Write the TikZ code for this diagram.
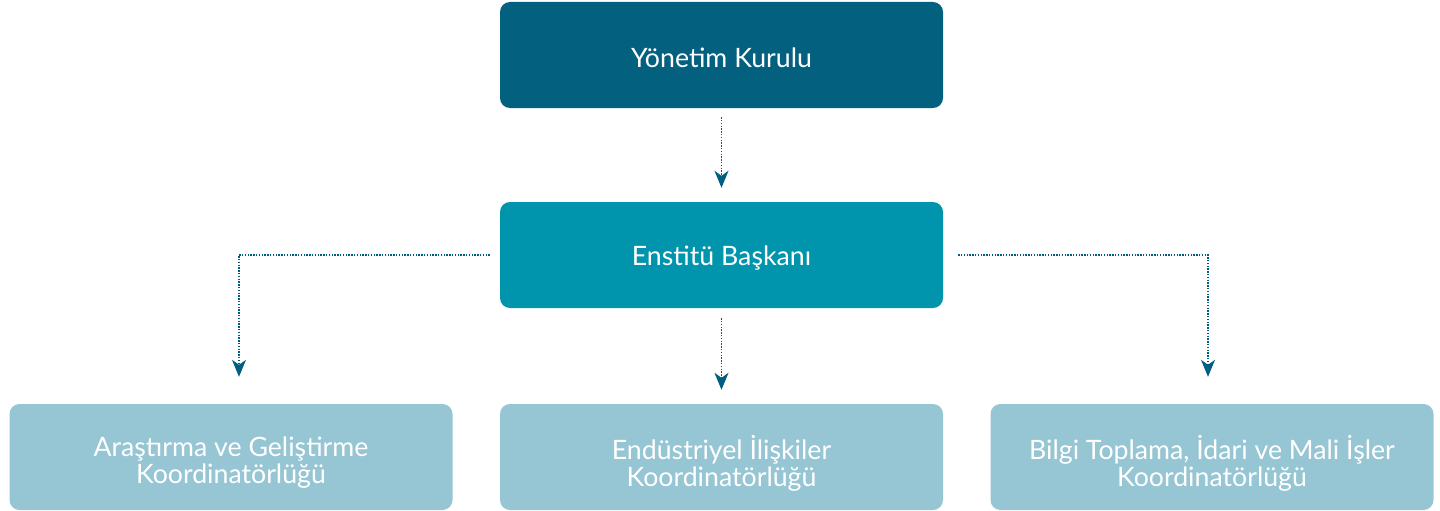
\documentclass[tikz,border=0pt]{standalone}
\usepackage{fontspec}
\setmainfont{Lato}
\usetikzlibrary{arrows.meta}
\definecolor{cTop}{HTML}{03607F}
\definecolor{cMid}{HTML}{0094AD}
\definecolor{cLow}{HTML}{96C5D3}
\definecolor{cLine}{HTML}{005F80}
\tikzset{
  box/.style={rounded corners=10pt, minimum width=443pt, minimum height=106pt,
    inner sep=0pt},
  txt/.style={inner sep=0pt, text=white, align=center, font=\fontsize{26.7}{27}\selectfont},
  conn/.style={draw=cLine, line width=1.4pt, dash pattern=on 1.4pt off 1.4pt,
    -{Stealth[length=17pt,width=14pt,inset=5pt]}},
}
\begin{document}
\begin{tikzpicture}[x=1pt,y=-1pt]
\useasboundingbox (0,0) rectangle (1440,511);
\node[box, fill=cTop] (top) at (721.5,55) {};
\node[box, fill=cMid] (mid) at (721.5,255) {};
\node[box, fill=cLow] (left) at (231,457) {};
\node[box, fill=cLow] (center) at (721.5,457) {};
\node[box, fill=cLow] (right) at (1212,457) {};
\node[txt] (topt) at ([yshift=-3pt]top.center) {Yönetim Kurulu};
\node[txt] (midt) at ([yshift=-3pt]mid.center) {Enstitü Başkanı};
\node[txt] (leftt) at ([yshift=-6pt]left.center) {Araştırma ve Geliştirme\\Koordinatörlüğü};
\node[txt] (centert) at ([yshift=-6pt]center.center) {Endüstriyel İlişkiler\\Koordinatörlüğü};
\node[txt] (rightt) at ([yshift=-6pt]right.center) {Bilgi Toplama, İdari ve Mali İşler\\Koordinatörlüğü};
\draw[conn, shorten <=9pt, shorten >=14pt] (top.south) -- (mid.north);
\draw[conn, shorten <=10pt, shorten >=14pt] (mid.south) -- (center.north);
\draw[conn, shorten <=10pt, shorten >=27pt] (mid.west) -| ([xshift=8pt]left.north);
\draw[conn, shorten <=15pt, shorten >=27pt] (mid.east) -| ([xshift=-4pt]right.north);
\end{tikzpicture}
\end{document}
